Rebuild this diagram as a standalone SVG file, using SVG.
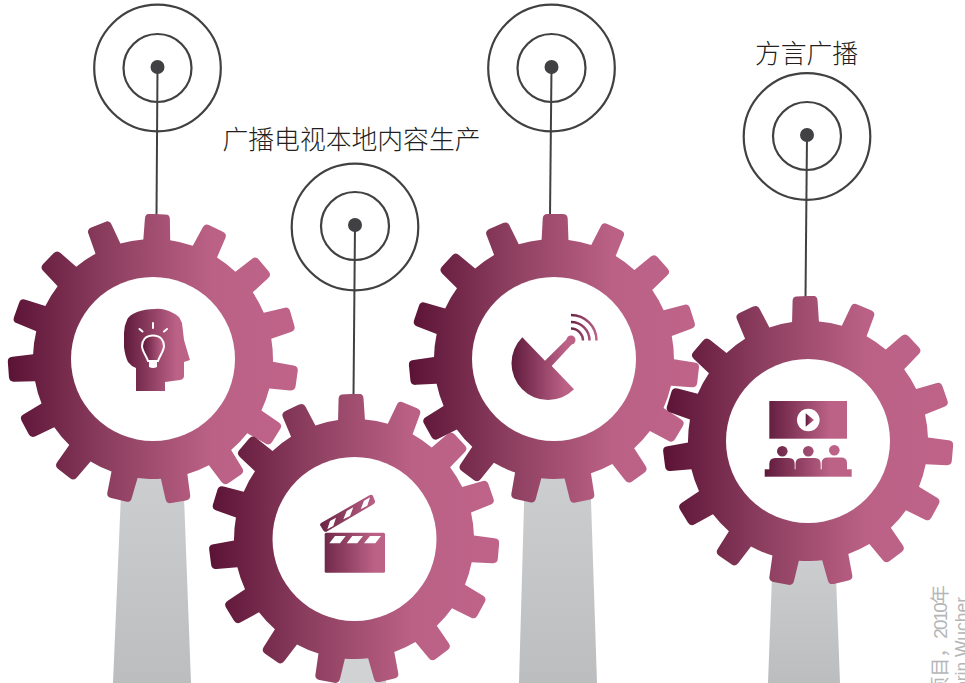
<svg xmlns="http://www.w3.org/2000/svg" xmlns:xlink="http://www.w3.org/1999/xlink" width="965" height="683" viewBox="0 0 965 683">
<style>
.ring{fill:none;stroke:#414042;stroke-width:2.2}
.dot{fill:#414042}
.wire{fill:none;stroke:#414042;stroke-width:2}
.lab{font-family:"Noto Sans CJK SC","Liberation Sans",sans-serif;font-size:25.800px;font-weight:300;fill:#231f20}
.credit{font-family:"Liberation Sans","Noto Sans CJK SC",sans-serif;font-size:19px;fill:#b5b6b8}
.hole{fill:#fff}
.cut{fill:#fff}
</style>
<defs>
<linearGradient id="gearFill" gradientUnits="userSpaceOnUse" x1="-146" y1="0" x2="146" y2="0">
<stop offset="0" stop-color="#5a1234"/><stop offset="0.35" stop-color="#8d3f60"/><stop offset="0.7" stop-color="#bb6186"/><stop offset="1" stop-color="#bf6389"/>
</linearGradient>
<linearGradient id="standFill" x1="0" y1="0" x2="0" y2="1">
<stop offset="0" stop-color="#cdced0"/><stop offset="1" stop-color="#bcbdbf"/>
</linearGradient>
<linearGradient id="headFill" gradientUnits="userSpaceOnUse" x1="124" y1="0" x2="190" y2="0"><stop offset="0" stop-color="#5f1a3b"/><stop offset="0.8" stop-color="#bc6287"/></linearGradient>
<linearGradient id="bulbFill" gradientUnits="userSpaceOnUse" x1="143" y1="0" x2="163" y2="0"><stop offset="0" stop-color="#5f1a3b"/><stop offset="1" stop-color="#bc6287"/></linearGradient>
<linearGradient id="clapFill" gradientUnits="userSpaceOnUse" x1="320" y1="0" x2="385" y2="0"><stop offset="0" stop-color="#6a2444"/><stop offset="0.85" stop-color="#bc6287"/></linearGradient>
<linearGradient id="dishFill" gradientUnits="userSpaceOnUse" x1="511" y1="0" x2="575" y2="0"><stop offset="0" stop-color="#5f1a3b"/><stop offset="0.85" stop-color="#bc6287"/></linearGradient>
<linearGradient id="waveFill" gradientUnits="userSpaceOnUse" x1="571" y1="0" x2="597" y2="0"><stop offset="0" stop-color="#6a2444"/><stop offset="1" stop-color="#bc6287"/></linearGradient>
<linearGradient id="cineFill" gradientUnits="userSpaceOnUse" x1="765" y1="0" x2="852" y2="0"><stop offset="0" stop-color="#5f1a3b"/><stop offset="0.75" stop-color="#bc6287"/></linearGradient>
<linearGradient id="playFill" x1="0" y1="0" x2="1" y2="0"><stop offset="0" stop-color="#5f1a3b"/><stop offset="1" stop-color="#bc6287"/></linearGradient>
<path id="tooth" d="M-13.500,-118L-12.500,-140Q-12.500,-145-7.500,-145L7.500,-145Q12.500,-145 12.500,-140L13.500,-118Z"/>
<clipPath id="gearClip">
<circle r="120"/>
<use xlink:href="#tooth"/>
<use xlink:href="#tooth" transform="rotate(24)"/>
<use xlink:href="#tooth" transform="rotate(48)"/>
<use xlink:href="#tooth" transform="rotate(72)"/>
<use xlink:href="#tooth" transform="rotate(96)"/>
<use xlink:href="#tooth" transform="rotate(120)"/>
<use xlink:href="#tooth" transform="rotate(144)"/>
<use xlink:href="#tooth" transform="rotate(168)"/>
<use xlink:href="#tooth" transform="rotate(192)"/>
<use xlink:href="#tooth" transform="rotate(216)"/>
<use xlink:href="#tooth" transform="rotate(240)"/>
<use xlink:href="#tooth" transform="rotate(264)"/>
<use xlink:href="#tooth" transform="rotate(288)"/>
<use xlink:href="#tooth" transform="rotate(312)"/>
<use xlink:href="#tooth" transform="rotate(336)"/>
</clipPath>
</defs>
<rect width="965" height="683" fill="#fff"/>
<g id="stands">
<path d="M122,470H183L191,683H113Z" fill="url(#standFill)"/>
<path d="M340,640H386V683H340Z" fill="#d1d2d4"/>
<path d="M525,470H590L597,683H519Z" fill="url(#standFill)"/>
<path d="M773,550H835L840,683H768Z" fill="url(#standFill)"/>
</g>
<g id="connectors">
<path class="wire" d="M157.500,67L156.500,216"/>
<path class="wire" d="M355,225L353.500,396"/>
<path class="wire" d="M551.500,67L550,216"/>
<path class="wire" d="M807,135L805.500,298"/>
</g>
<g id="credit">
<text class="credit" transform="translate(947,585) rotate(-90)" text-anchor="end">项目，<tspan letter-spacing="-1.900">2010</tspan>年</text>
<text class="credit" style="font-size:17.500px" transform="translate(968,597) rotate(-90)" text-anchor="end">Corin Wucher</text>
</g>
<g id="gear-idea">
<circle class="ring" cx="157.500" cy="68" r="63.300"/><circle class="ring" cx="157.500" cy="68" r="34"/><circle class="dot" cx="157.500" cy="67" r="7"/>
<g transform="translate(153,359) rotate(1.800)" clip-path="url(#gearClip)"><rect x="-150" y="-150" width="300" height="300" fill="url(#gearFill)" transform="rotate(-1.800)"/></g>
<circle class="hole" cx="153" cy="359" r="82"/>
<path d="M136,391L165,391L165,382L180,380Q184,379 184,376L184,362L190,360L189,357L184,340L182,323Q179,315 173,313Q163,308 155,309Q145,309 137,312Q129,315 127,320Q124,326 124,333L124,347Q125,356 128,362Q131,366 136,368Z" fill="url(#headFill)"/>
<path d="M153,335.500C145,335.500 142,341 142,346C142,351 146,355 148,361L158,361C160,355 164,351 164,346C164,341 161,335.500 153,335.500Z" fill="url(#bulbFill)" stroke="#fff" stroke-width="2"/>
<path d="M149,362H157V367Q153,369 149,367Z" fill="#fff"/>
<path d="M139.500,329L142.500,331.500M153,323V328M167,329L164,331.500" fill="none" stroke="#fff" stroke-width="2" stroke-linecap="round"/>
</g>
<g id="gear-film">
<circle class="ring" cx="355" cy="227" r="63.300"/><circle class="ring" cx="355" cy="226" r="34"/><circle class="dot" cx="355" cy="225" r="7"/>
<g transform="translate(354,539) rotate(-1.200)" clip-path="url(#gearClip)"><rect x="-150" y="-150" width="300" height="300" fill="url(#gearFill)" transform="rotate(1.200)"/></g>
<circle class="hole" cx="354.500" cy="539" r="82"/>
<rect x="324.700" y="532.700" width="60.300" height="40" rx="1.500" fill="url(#clapFill)"/>
<path d="M335,536H345.700L340,543.300H329.300ZM352.300,536H363L357.300,543.300H346.700ZM370,536H381L375.300,543.300H364Z" class="cut"/>
<path d="M321,523L369,495.500Q372,494 373,496L375,501Q375.500,503 373,504.500L326,532Q324,532 323,530L320,525Q320,524 321,523Z" fill="url(#clapFill)"/>
<path d="M330,521L336,517.700L333.300,526L327.300,529.300ZM346.700,511L353.300,507.300L350,516L343.300,519.300ZM364,500.700L370,497.300L367.300,505.700L360.700,509.300Z" class="cut"/>
</g>
<g id="gear-dish">
<circle class="ring" cx="551.500" cy="68" r="63.300"/><circle class="ring" cx="551.500" cy="68" r="34"/><circle class="dot" cx="551.500" cy="67" r="7"/>
<g transform="translate(554,359) rotate(0.500)" clip-path="url(#gearClip)"><rect x="-150" y="-150" width="300" height="300" fill="url(#gearFill)" transform="rotate(-0.500)"/></g>
<circle class="hole" cx="554" cy="359" r="82"/>
<path d="M522.300,337.300L545,360.700L568.500,337.500L573.500,342.500L551.700,366L574,389.300A36.500,36.500 0 0 1 522.300,337.300Z" fill="url(#dishFill)"/>
<circle cx="571" cy="340" r="4.500" fill="#bc6287"/>
<path d="M571,328.500A12,12 0 0 1 583,340.500M571,322A18.500,18.500 0 0 1 589.500,340.500M571,315A25.500,25.500 0 0 1 596.500,340.500" fill="none" stroke="url(#waveFill)" stroke-width="2.500"/>
</g>
<g id="gear-cinema">
<circle class="ring" cx="807" cy="136.500" r="63.300"/><circle class="ring" cx="807" cy="136" r="34"/><circle class="dot" cx="807" cy="135" r="7"/>
<g transform="translate(808,441) rotate(-1.200)" clip-path="url(#gearClip)"><rect x="-150" y="-150" width="300" height="300" fill="url(#gearFill)" transform="rotate(1.200)"/></g>
<circle class="hole" cx="808" cy="441" r="82"/>
<g fill="url(#cineFill)">
<rect x="769.300" y="401" width="77.700" height="37.700"/>
<circle cx="782.300" cy="451.300" r="5.300"/><circle cx="808.300" cy="451.300" r="5.300"/><circle cx="834.300" cy="450.300" r="5.300"/>
<path d="M769.300,470V464Q769.300,458 775.300,458H789Q794.700,458 794.700,464V470Z"/>
<path d="M795.500,470V464Q795.500,458 801.300,458H815Q820.700,458 820.700,464V470Z"/>
<path d="M821.700,470V463Q821.700,457.500 827.500,457.500H841Q847,457.500 847,463V470Z"/>
<rect x="764.700" y="469.300" width="87" height="7.400"/>
</g>
<circle cx="808.300" cy="420" r="11.300" fill="#fff"/>
<path d="M805.700,413.300L814,420L805.700,426.700Z" fill="url(#playFill)"/>
</g>
<g id="labels">
<text class="lab" x="351.500" y="149" text-anchor="middle">广播电视本地内容生产</text>
<text class="lab" x="806.500" y="63" text-anchor="middle">方言广播</text>
</g>
</svg>
